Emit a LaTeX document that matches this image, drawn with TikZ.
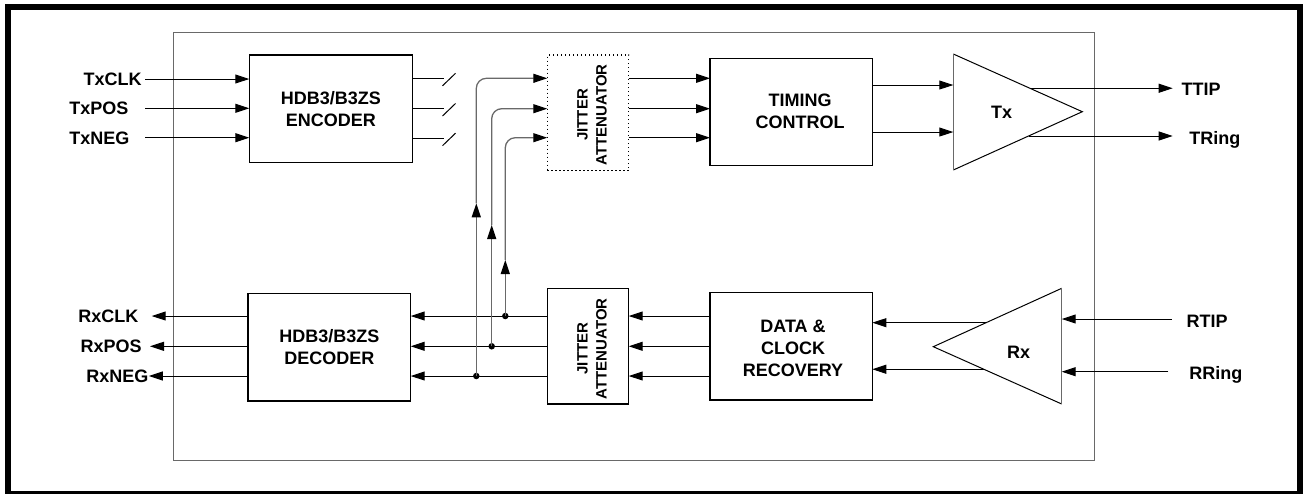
\documentclass[tikz,border=0pt]{standalone}
\usepackage{fontspec}
\setmainfont{Liberation Sans}
\usetikzlibrary{arrows.meta,calc}
\definecolor{bgray}{RGB}{105,105,105}
\begin{document}
\begin{tikzpicture}[x=1pt,y=-1pt,
  every node/.style={inner sep=0pt, outer sep=0pt},
  blk/.style={draw, line width=1.1pt, font=\bfseries\fontsize{18}{22}\selectfont, align=center},
  jtxt/.style={rotate=90, align=center, font=\bfseries\fontsize{15}{19}\selectfont},
  lbl/.style={font=\bfseries\fontsize{18}{22}\selectfont, text height=12.9pt, text depth=0pt},
  wire/.style={line width=1pt},
  arr/.style={line width=1pt, -{Triangle[length=14pt,width=9pt]}},
  bus/.style={line width=1.3pt, draw=bgray},
  busarr/.style={line width=1.3pt, draw=bgray, -{Triangle[length=14pt,width=9pt,color=black]}},
  dot/.style={circle, fill, minimum size=6.5pt}
]
\useasboundingbox (0,0) rectangle (1303,493);
\clip (0,0) rectangle (1303,493);
% outer frame
\draw[line width=6pt] (8,7) rectangle (1300,494);
% inner chip outline
\draw[line width=1.5pt, draw=bgray] (173.3,32.3) rectangle (1094.3,460.7);

% blocks
\node[blk, minimum width=163pt, minimum height=107.3pt] (enc) at (330.8,108.65) {HDB3/B3ZS\\ENCODER};
\node[blk, dash pattern=on 1.3pt off 2.7pt, minimum width=81.4pt, minimum height=115.7pt] (jat) at (588,112.85) {};
\node[jtxt] at ([shift={(4,2)}]jat.center) {JITTER\\ATTENUATOR};
\node[blk, minimum width=162.7pt, minimum height=107.4pt] (tc) at (791.35,112) {};
\node[font=\bfseries\fontsize{18}{22}\selectfont, align=center] at (800,111.5) {TIMING\\CONTROL};
\node[blk, minimum width=162.7pt, minimum height=107.7pt] (dec) at (329.35,347.15) {HDB3/B3ZS\\DECODER};
\node[blk, minimum width=81.4pt, minimum height=115.7pt] (jar) at (588,346.15) {};
\node[jtxt] at ([shift={(4,2.5)}]jar.center) {JITTER\\ATTENUATOR};
\node[blk, minimum width=162.3pt, minimum height=107.7pt] (dcr) at (791.15,346.15) {};
\node[font=\bfseries\fontsize{18}{22}\selectfont, align=center] at (793,348) {DATA \&\\CLOCK\\RECOVERY};

% Tx triangle
\coordinate (TxA) at (953.3,54);
\coordinate (TxB) at (953.3,170);
\coordinate (TxC) at (1082.3,111.7);
\draw[line width=1pt] (TxA) -- (TxC) -- (TxB);
\draw[line width=1.3pt, draw=bgray] (TxA) -- (TxB);
\node[lbl] (txt) at (1001.7,111.7) {Tx};
% Rx triangle
\coordinate (RxA) at (933.3,346.7);
\coordinate (RxB) at (1061.7,288.3);
\coordinate (RxC) at (1061.7,404);
\draw[line width=1pt] (RxB) -- (RxA) -- (RxC);
\draw[line width=1.5pt, draw=bgray] (RxB) -- (RxC);
\node[lbl] (rxt) at (1018.7,352.3) {Rx};

% left labels (transmit inputs)
\node[lbl, anchor=east] (txclk) at (141.7,79) {TxCLK};
\node[lbl, anchor=east] (txpos) at (128.3,108.3) {TxPOS};
\node[lbl, anchor=east] (txneg) at (129.3,137.7) {TxNEG};
\draw[arr] ([xshift=3.3pt]txclk.east) -- (txclk -| enc.west);
\draw[arr] ([xshift=16.7pt]txpos.east) -- (txpos -| enc.west);
\draw[arr] ([xshift=15.7pt]txneg.east) -- (txneg -| enc.west);

% encoder outputs with open switches
\foreach \y [count=\i] in {78.3,108.5,138.2} {
  \coordinate (s\i) at (444,\y);
  \draw[wire] (s\i -| enc.east) -- (s\i);
  \draw[wire] ([shift={(-1.5,7.5)}]s\i) -- ([shift={(11.5,-5)}]s\i);
}

% top jitter attenuator inputs/outputs
\coordinate (j1) at (jat.west |- 0,78.3);
\coordinate (j2) at (jat.west |- 0,108.7);
\coordinate (j3) at (jat.west |- 0,137.7);
\draw[arr] (jat.east |- j1) -- (tc.west |- j1);
\draw[arr] (jat.east |- j2) -- (tc.west |- j2);
\draw[arr] (jat.east |- j3) -- (tc.west |- j3);

% timing control to Tx
\coordinate (t1) at (953.3,85);
\coordinate (t2) at (953.3,132);
\draw[arr] (tc.east |- t1) -- (t1);
\draw[arr] (tc.east |- t2) -- (t2);

% Tx outputs
\node[lbl, anchor=west] (ttip) at (1181.7,89.5) {TTIP};
\node[lbl, anchor=west] (tring) at (1189.3,138) {TRing};
\coordinate (o1) at ($(TxA)!0.594!(TxC)$);
\coordinate (o2) at ($(TxB)!0.583!(TxC)$);
\draw[arr] (o1) -- ([xshift=-9pt]ttip.west |- o1);
\draw[arr] (o2) -- ([xshift=-16.6pt]tring.west |- o2);

% Rx inputs
\node[lbl, anchor=west] (rtip) at (1186.7,321) {RTIP};
\node[lbl, anchor=west] (rring) at (1189.3,373.3) {RRing};
\coordinate (r1) at (1061.7,319);
\coordinate (r2) at (1061.7,371.7);
\draw[arr] ([xshift=-15pt]rtip.west |- r1) -- (r1);
\draw[arr] ([xshift=-21pt]rring.west |- r2) -- (r2);

% Rx to data & clock recovery
\coordinate (q1) at ($(RxA)!0.411!(RxB)$);
\coordinate (q2) at ($(RxA)!0.394!(RxC)$);
\draw[arr] (q1) -- (dcr.east |- q1);
\draw[arr] (q2) -- (dcr.east |- q2);

% receive path rows
\coordinate (y1) at (0,316);
\coordinate (y2) at (0,346.3);
\coordinate (y3) at (0,376);
\foreach \i in {1,2,3} {
  \draw[arr] (dcr.west |- y\i) -- (jar.east |- y\i);
  \draw[arr] (jar.west |- y\i) -- (dec.east |- y\i);
}

% junction dots and feedback bus to top jitter attenuator
\node[dot] (d1) at (476.3,376) {};
\node[dot] (d2) at (491.7,346.3) {};
\node[dot] (d3) at (505.3,316) {};
\coordinate (u1) at (476.3,203.3);
\coordinate (u2) at (491.7,225);
\coordinate (u3) at (505.3,260);
\draw[busarr] (d1.center) -- (u1);
\draw[busarr] (d2.center) -- (u2);
\draw[busarr] (d3.center) -- (u3);
\draw[busarr, rounded corners=10pt] (u1) |- (j1);
\draw[busarr, rounded corners=10pt] (u2) |- (j2);
\draw[busarr, rounded corners=10pt] (u3) |- (j3);

% receive outputs
\node[lbl, anchor=east] (rxclk) at (138.3,316) {RxCLK};
\node[lbl, anchor=east] (rxpos) at (141.7,346.3) {RxPOS};
\node[lbl, anchor=east] (rxneg) at (148.3,376) {RxNEG};
\draw[arr] (dec.west |- rxclk) -- ([xshift=13.4pt]rxclk.east);
\draw[arr] (dec.west |- rxpos) -- ([xshift=8.3pt]rxpos.east);
\draw[arr] (dec.west |- rxneg) -- ([xshift=0.5pt]rxneg.east);
\end{tikzpicture}
\end{document}
